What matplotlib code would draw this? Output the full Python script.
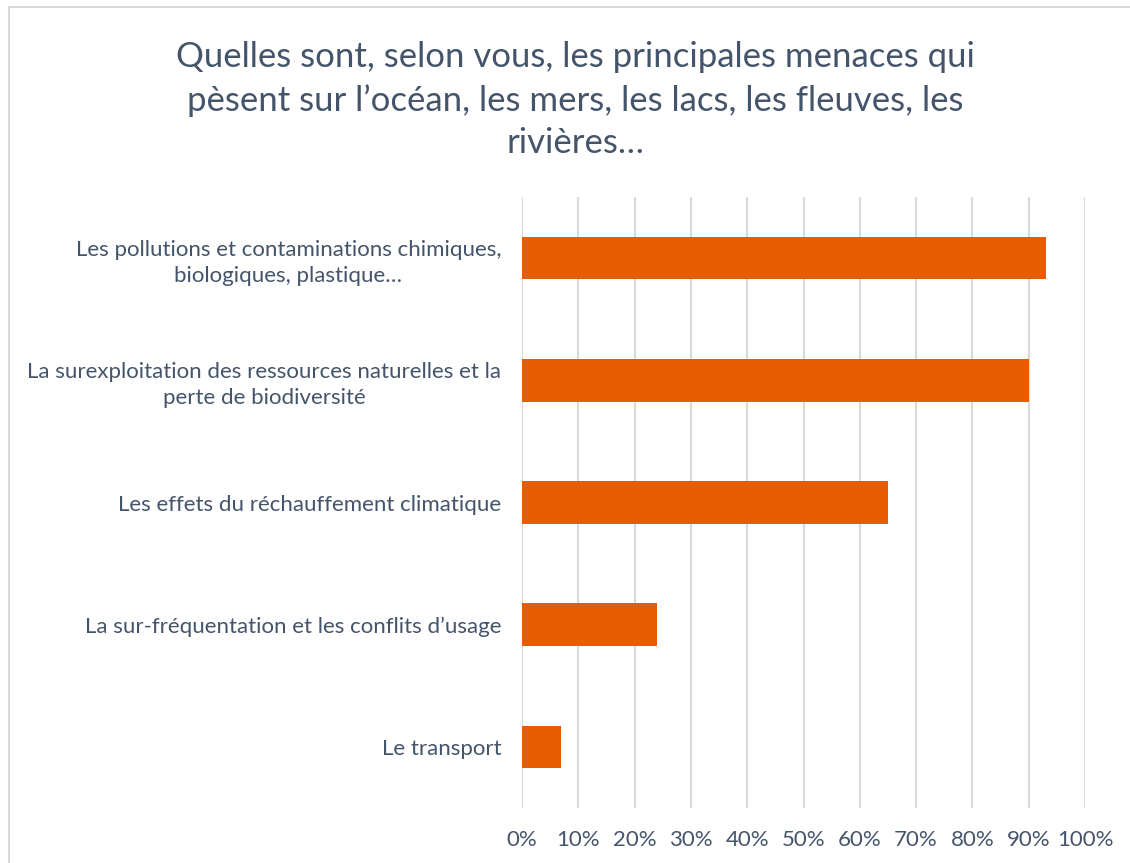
import matplotlib
matplotlib.use("Agg")
import matplotlib.pyplot as plt
from matplotlib.patches import Rectangle
from matplotlib.ticker import PercentFormatter

title = ("Quelles sont, selon vous, les principales menaces qui\n"
         "pèsent sur l’océan, les mers, les lacs, les fleuves, les\n"
         "rivières…")
categories = [
    "Les pollutions et contaminations chimiques,\nbiologiques, plastique…",
    "La surexploitation des ressources naturelles et la\nperte de biodiversité",
    "Les effets du réchauffement climatique",
    "La sur-fréquentation et les conflits d’usage",
    "Le transport",
]
values = [93, 90, 65, 24, 7]
xticks = list(range(0, 101, 10))

text_color = "#44546A"
bar_color = "#E65C00"
grid_color = "#D9D9D9"

plt.rcParams['font.family'] = ['Lato', 'DejaVu Sans']

fig = plt.figure(figsize=(11.3, 8.63), dpi=100)
fig.patches.append(Rectangle((9 / 1130, -0.01), 1.02, 1 - 7 / 863 + 0.01,
                             transform=fig.transFigure, fill=False,
                             edgecolor=grid_color, linewidth=1.5))

ax = fig.add_axes([522 / 1130, 1 - 808 / 863, 563 / 1130, 611 / 863])
pos = list(range(len(categories)))
ax.barh(pos, values, height=0.35, color=bar_color, zorder=3)
ax.set_ylim(len(categories) - 0.5, -0.5)
ax.set_xlim(0, 100)
ax.set_xticks(xticks)
ax.xaxis.set_major_formatter(PercentFormatter(decimals=0))
ax.set_yticks(pos)
ax.set_yticklabels(categories, multialignment='center', linespacing=1.35)
ax.grid(axis='x', color=grid_color, linewidth=1.5, zorder=0)
for s in ax.spines.values():
    s.set_visible(False)
ax.tick_params(axis='both', length=0, labelsize=16, colors=text_color)
ax.tick_params(axis='x', pad=16)
ax.tick_params(axis='y', pad=15)

fig.text(575 / 1130, 1 - 100 / 863, title, ha='center', va='center',
         fontsize=25, color=text_color, linespacing=1.42)

fig.savefig("out.png", dpi=100)
